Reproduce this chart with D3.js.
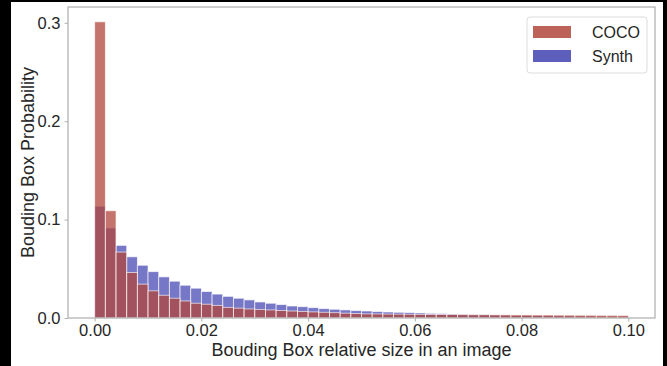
<!DOCTYPE html>
<html>
<head>
<meta charset="utf-8">
<script src="https://cdn.jsdelivr.net/npm/d3@7"></script>
<style>
  html, body { margin: 0; padding: 0; background: #000; }
  svg { display: block; }
  text { font-family: "Liberation Sans", Arial, sans-serif; fill: #262626; }
</style>
</head>
<body>
<svg id="chart" width="667" height="366"></svg>
<script>
// Histogram bins: 50 bins of width 0.002 over [0, 0.1]
const binWidth = 0.002;
const binCount = 50;

// Probability per bin, COCO dataset
const cocoValues = [
  0.301, 0.109, 0.067, 0.0463, 0.0344, 0.0276, 0.0231, 0.0201, 0.0173, 0.0150,
  0.0140, 0.0128, 0.0108, 0.0100, 0.0092, 0.0087, 0.0082, 0.0076, 0.0071, 0.0067,
  0.0062, 0.0058, 0.0054, 0.0049, 0.0045, 0.0042, 0.0041, 0.0040, 0.0039, 0.0038,
  0.0037, 0.0036, 0.0035, 0.0035, 0.0034, 0.0033, 0.0033, 0.0032, 0.0032, 0.0031,
  0.0031, 0.0030, 0.0030, 0.0029, 0.0029, 0.0028, 0.0028, 0.0027, 0.0027, 0.0026
];

// Probability per bin, synthetic dataset
const synthValues = [
  0.1136, 0.0915, 0.0738, 0.0622, 0.0536, 0.0471, 0.0418, 0.0374, 0.0333, 0.0303,
  0.0269, 0.0243, 0.0220, 0.0201, 0.0184, 0.0163, 0.0150, 0.0136, 0.0122, 0.0115,
  0.0105, 0.0095, 0.0089, 0.0082, 0.0075, 0.0071, 0.0065, 0.0061, 0.0058, 0.0055,
  0.0051, 0.0047, 0.0044, 0.0041, 0.0038, 0.0036, 0.0034, 0.0031, 0.0029, 0.0027,
  0.0025, 0.0024, 0.0022, 0.0021, 0.0020, 0.0019, 0.0018, 0.0017, 0.0016, 0.0015
];

const xTicks = [0.00, 0.02, 0.04, 0.06, 0.08, 0.10];
const yTicks = [0.0, 0.1, 0.2, 0.3];
const seriesNames = ["COCO", "Synth"];
const seriesColors = ["#b0463c", "#4242b2"];

const svg = d3.select("#chart");

// white figure canvas
svg.append("rect").attr("x", 11).attr("y", 2).attr("width", 652).attr("height", 364).attr("fill", "#fff");

const plot = { left: 68, right: 655, top: 7, bottom: 318 };

const xMin = 0, xMax = binWidth * binCount;
const xPad = (xMax - xMin) * 0.05;
const x = d3.scaleLinear().domain([xMin - xPad, xMax + xPad]).range([plot.left, plot.right]);

const yMax = d3.max(cocoValues.concat(synthValues)) * 1.05;
const y = d3.scaleLinear().domain([0, yMax]).range([plot.bottom, plot.top]);

function drawSeries(values, color, opacity) {
  svg.append("g")
    .selectAll("rect")
    .data(values)
    .join("rect")
    .attr("x", (d, i) => x(i * binWidth))
    .attr("y", d => y(d))
    .attr("width", (d, i) => x((i + 1) * binWidth) - x(i * binWidth))
    .attr("height", d => y(0) - y(d))
    .attr("fill", color)
    .attr("fill-opacity", opacity)
    .attr("stroke", "#fff")
    .attr("stroke-opacity", 0.7)
    .attr("stroke-width", 0.9);
}

drawSeries(synthValues, seriesColors[1], 0.72);
drawSeries(cocoValues, seriesColors[0], 0.75);

// axes
const xAxis = d3.axisBottom(x).tickValues(xTicks).tickFormat(d3.format(".2f")).tickSize(3.5).tickPadding(3);
const yAxis = d3.axisLeft(y).tickValues(yTicks).tickFormat(d3.format(".1f")).tickSize(3.5).tickPadding(4);

const gx = svg.append("g").attr("transform", `translate(0,${plot.bottom})`).call(xAxis);
const gy = svg.append("g").attr("transform", `translate(${plot.left},0)`).call(yAxis);
[gx, gy].forEach(g => {
  g.select(".domain").remove();
  g.selectAll(".tick line").attr("stroke", "#b0b0b0").attr("stroke-width", 1);
  g.selectAll(".tick text").style("font-size", "16.5px").attr("fill", "#262626");
});

// frame
svg.append("rect")
  .attr("x", plot.left).attr("y", plot.top)
  .attr("width", plot.right - plot.left).attr("height", plot.bottom - plot.top)
  .attr("fill", "none").attr("stroke", "#b0b0b0").attr("stroke-width", 1.25);

// axis titles
svg.append("text")
  .attr("x", (plot.left + plot.right) / 2).attr("y", 356)
  .attr("text-anchor", "middle").style("font-size", "18px")
  .text("Bouding Box relative size in an image");

svg.append("text")
  .attr("transform", `translate(33.5,${(plot.top + plot.bottom) / 2}) rotate(-90)`)
  .attr("text-anchor", "middle").style("font-size", "18px")
  .text("Bouding Box Probability");

// legend
const lg = svg.append("g").attr("transform", "translate(527,17)");
lg.append("rect").attr("width", 120).attr("height", 56).attr("rx", 3)
  .attr("fill", "#fff").attr("stroke", "#dcdcdc").attr("stroke-width", 1);
seriesNames.forEach((name, i) => {
  const row = lg.append("g").attr("transform", `translate(6,${9 + i * 24})`);
  row.append("rect").attr("width", 38).attr("height", 12)
    .attr("fill", seriesColors[i]).attr("fill-opacity", 0.85);
  row.append("text").attr("x", 59).attr("y", 11.5).style("font-size", "16px").text(name);
});
</script>
</body>
</html>
